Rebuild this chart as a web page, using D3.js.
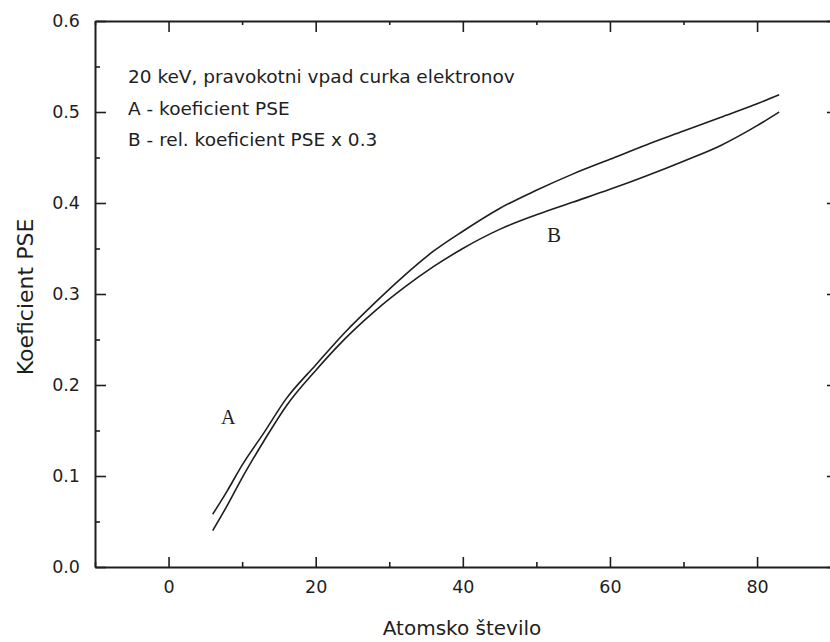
<!DOCTYPE html>
<html>
<head>
<meta charset="utf-8">
<script src="https://cdn.jsdelivr.net/npm/d3@7"></script>
<style>
  html, body { margin: 0; padding: 0; background: #fff; }
  svg { display: block; }
</style>
</head>
<body>
<svg id="chart" width="830" height="642"></svg>
<script>
// ---- data ----
const atomicNumbers = [6, 8, 10, 13, 16, 20, 24, 28, 32, 36, 40, 45, 50, 55, 60, 65, 70, 75, 80, 83];
const coefA = [0.058, 0.084, 0.112, 0.148, 0.185, 0.222, 0.258, 0.290, 0.320, 0.347, 0.369, 0.394, 0.414, 0.432, 0.448, 0.464, 0.479, 0.494, 0.509, 0.519];
const coefB = [0.040, 0.068, 0.098, 0.139, 0.177, 0.216, 0.251, 0.281, 0.307, 0.330, 0.350, 0.371, 0.387, 0.401, 0.415, 0.430, 0.446, 0.463, 0.485, 0.500];
const xMajorTicks = [0, 20, 40, 60, 80];
const xMinorTicks = [-10, 10, 30, 50, 70, 90];
const yMajorTicks = [0, 0.1, 0.2, 0.3, 0.4, 0.5, 0.6];
const yMinorTicks = [0.05, 0.15, 0.25, 0.35, 0.45, 0.55];
const annotationLines = ["20 keV, pravokotni vpad curka elektronov", "A - koeficient PSE", "B - rel. koeficient PSE x 0.3"];
const xTitle = "Atomsko število";
const yTitle = "Koeficient PSE";

(function () {
// ---- layout ----
const L = 95, R = 838, T = 21, B = 567;
const svg = d3.select("#chart");
const x = d3.scaleLinear().domain([-10, 91]).range([L, R]);
const y = d3.scaleLinear().domain([0, 0.6]).range([B, T]);
const ink = "#1e1e1e";
const sans = "'DejaVu Sans', Verdana, sans-serif";

// curves
const line = d3.line().x(d => x(d[0])).y(d => y(d[1])).curve(d3.curveMonotoneX);
[coefA, coefB].forEach(vals => {
  svg.append("path")
    .datum(atomicNumbers.map((z, i) => [z, vals[i]]))
    .attr("d", line)
    .attr("fill", "none")
    .attr("stroke", ink)
    .attr("stroke-width", 1.6);
});

// axes (ticks inward)
const fmtY = d3.format(".1f");
function styleAxis(g) {
  g.selectAll(".domain").attr("stroke", ink).attr("stroke-width", 2);
  g.selectAll(".tick line").attr("stroke", ink).attr("stroke-width", 1.6);
}
const axBottom = svg.append("g").attr("transform", `translate(0,${B})`)
  .call(d3.axisBottom(x).tickValues(xMajorTicks).tickSize(-10).tickSizeOuter(0).tickPadding(14).tickFormat(d3.format("d")));
styleAxis(axBottom);
axBottom.selectAll(".tick text").attr("font-family", sans).attr("font-size", 17.5).attr("fill", ink).attr("dy", "0.71em");
svg.append("g").attr("transform", `translate(0,${B})`)
  .call(d3.axisBottom(x).tickValues(xMinorTicks).tickSize(-5).tickSizeOuter(0).tickFormat(""))
  .call(g => { g.select(".domain").remove(); styleAxis(g); });

const axTop = svg.append("g").attr("transform", `translate(0,${T})`)
  .call(d3.axisTop(x).tickValues(xMajorTicks).tickSize(-11).tickSizeOuter(0).tickFormat(""));
styleAxis(axTop);
svg.append("g").attr("transform", `translate(0,${T})`)
  .call(d3.axisTop(x).tickValues(xMinorTicks).tickSize(-4).tickSizeOuter(0).tickFormat(""))
  .call(g => { g.select(".domain").remove(); styleAxis(g); });

const axLeft = svg.append("g").attr("transform", `translate(${L},0)`)
  .call(d3.axisLeft(y).tickValues(yMajorTicks).tickSize(-11).tickSizeOuter(0).tickPadding(15).tickFormat(fmtY));
styleAxis(axLeft);
axLeft.selectAll(".tick text").attr("font-family", sans).attr("font-size", 17.5).attr("fill", ink);
svg.append("g").attr("transform", `translate(${L},0)`)
  .call(d3.axisLeft(y).tickValues(yMinorTicks).tickSize(-5).tickSizeOuter(0).tickFormat(""))
  .call(g => { g.select(".domain").remove(); styleAxis(g); });

const axRight = svg.append("g").attr("transform", `translate(${R},0)`)
  .call(d3.axisRight(y).tickValues(yMajorTicks).tickSize(-11).tickSizeOuter(0).tickFormat(""));
styleAxis(axRight);
svg.append("g").attr("transform", `translate(${R},0)`)
  .call(d3.axisRight(y).tickValues(yMinorTicks).tickSize(-5).tickSizeOuter(0).tickFormat(""))
  .call(g => { g.select(".domain").remove(); styleAxis(g); });

// axis titles
svg.append("text")
  .attr("x", (L + 829) / 2).attr("y", 635)
  .attr("text-anchor", "middle")
  .attr("font-family", sans).attr("font-size", 20).attr("fill", ink)
  .text(xTitle);
svg.append("text")
  .attr("transform", `translate(33,${(T + B) / 2 + 3}) rotate(-90)`)
  .attr("text-anchor", "middle")
  .attr("font-family", sans).attr("font-size", 22).attr("fill", ink)
  .text(yTitle);

// annotation block
const baselines = [83, 115, 146];
annotationLines.forEach((t, i) => {
  svg.append("text")
    .attr("x", 128).attr("y", baselines[i])
    .attr("font-family", sans).attr("font-size", 18.5).attr("fill", ink)
    .text(t);
});

// curve labels
const serif = "'Liberation Serif', 'Times New Roman', serif";
svg.append("text").attr("x", x(8.1)).attr("y", y(0.157)).attr("text-anchor", "middle")
  .attr("font-family", serif).attr("font-size", 20).attr("fill", ink).text("A");
svg.append("text").attr("x", x(52.4)).attr("y", y(0.357)).attr("text-anchor", "middle")
  .attr("font-family", serif).attr("font-size", 21).attr("fill", ink).text("B");
})();
</script>
</body>
</html>
